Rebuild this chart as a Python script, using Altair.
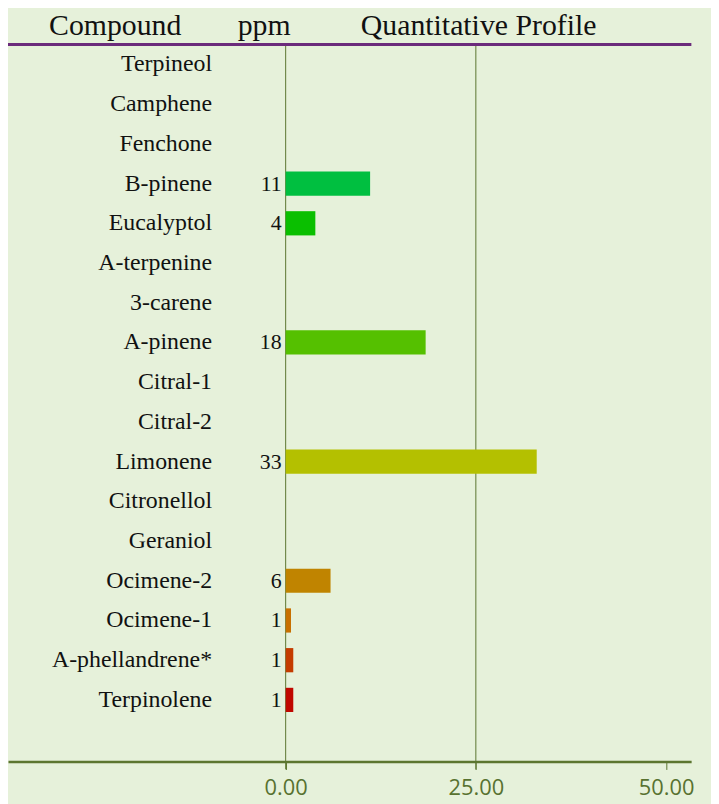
import altair as alt
import pandas as pd

compounds = ["Terpineol", "Camphene", "Fenchone", "B-pinene", "Eucalyptol",
             "A-terpenine", "3-carene", "A-pinene", "Citral-1", "Citral-2",
             "Limonene", "Citronellol", "Geraniol", "Ocimene-2", "Ocimene-1",
             "A-phellandrene*", "Terpinolene"]
ppm = [None, None, None, 11.1, 3.9, None, None, 18.4, None, None,
       33.0, None, None, 5.9, 0.7, 1.0, 1.0]
colors = [None, None, None, "#00bf40", "#0abf00", None, None, "#55c000", None, None,
          "#b4c000", None, None, "#c08400", "#c87000", "#c43c00", "#c00800"]
headers = ["Compound", "ppm", "Quantitative Profile"]
tick_values = [0, 25, 50]
grid_values = [0, 25]

df = pd.DataFrame({"compound": compounds, "ppm": ppm, "color": colors})
bars_df = df.dropna(subset=["ppm"])

W, H = 688, 722
x_scale = alt.Scale(domain=[-36.5, 53.3], nice=False, zero=False)
y_scale = alt.Scale(domain=compounds, range=[0, 680], paddingInner=0.39, paddingOuter=0.195)

olive = "#5c7630"

x_axis = alt.Axis(values=tick_values, format=".2f", title=None, grid=False,
                  domainColor=olive, domainWidth=2.5,
                  tickColor=olive, tickSize=8, tickWidth=1,
                  labelColor="#587230", labelFont="Open Sans", labelFontSize=22,
                  labelPadding=8)

grid = alt.Chart(pd.DataFrame({"g": grid_values})).mark_rule(color=olive, strokeWidth=1).encode(
    x=alt.X("g:Q", scale=x_scale, axis=x_axis),
    y=alt.value(0), y2=alt.value(H + 8),
)

base = alt.Chart(bars_df)

bars = base.mark_bar().encode(
    x=alt.X("ppm:Q", scale=x_scale, axis=x_axis),
    x2=alt.datum(0),
    y=alt.Y("compound:N", scale=y_scale,
            axis=alt.Axis(title=None, domain=False, ticks=False, grid=False,
                          offset=-205, labelPadding=0, labelFont="Liberation Serif",
                          labelFontSize=24, labelColor="#111111", labelAlign="right")),
    color=alt.Color("color:N", scale=None),
)

labels = base.mark_text(align="right", baseline="middle", dx=-4,
                        font="Liberation Serif", fontSize=22, color="#111111").encode(
    x=alt.datum(0, scale=x_scale),
    y=alt.Y("compound:N", scale=y_scale),
    text=alt.Text("ppm:Q", format=".0f"),
)

hdr_df = pd.DataFrame({"h": headers, "px": [108, 258, 474]})
header = alt.Chart(hdr_df).mark_text(align="center", baseline="alphabetic",
                                     font="Liberation Serif", fontSize=30, color="#111111").encode(
    x=alt.X("px:Q", scale=None),
    y=alt.value(-10),
    text="h:N",
)

top_line = alt.Chart(hdr_df).mark_rule(color="#6b2b7b", strokeWidth=3).encode(
    x=alt.value(-8), x2=alt.value(W), y=alt.value(0)
)

chart = alt.layer(grid, bars, labels, header, top_line).properties(
    width=W, height=H,
    background="#e6f1da",
    padding={"left": 0, "top": 34, "right": 20, "bottom": 40},
    autosize=alt.AutoSizeParams(type="none"),
).configure_view(stroke=None)

chart.save("out.html", embed_options={"renderer": "svg", "actions": False})
